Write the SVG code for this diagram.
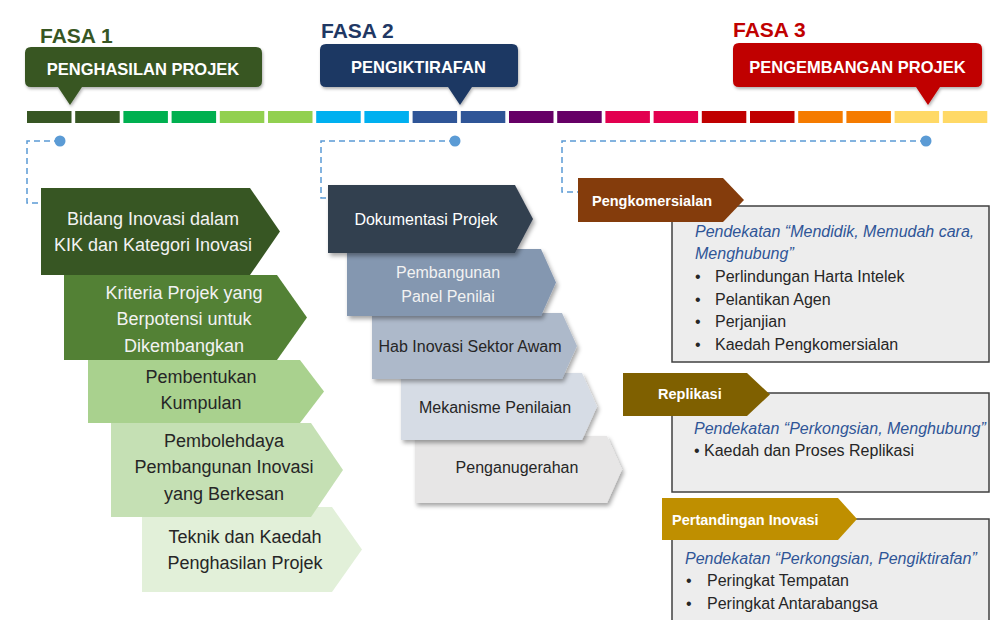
<svg xmlns="http://www.w3.org/2000/svg" width="991" height="620" viewBox="0 0 991 620">
<defs>
<filter id="sh" x="-10%" y="-10%" width="130%" height="140%">
<feDropShadow dx="2" dy="3" stdDeviation="2" flood-color="#000" flood-opacity="0.35"/>
</filter>
<filter id="sh2" x="-10%" y="-10%" width="130%" height="140%">
<feDropShadow dx="1" dy="2" stdDeviation="1.5" flood-color="#000" flood-opacity="0.3"/>
</filter>
</defs>
<style>
text{font-family:"Liberation Sans",Arial,sans-serif;}
.fasa{font-size:21px;font-weight:bold;}
.co{font-size:16.5px;font-weight:bold;fill:#fff;text-anchor:middle;}
.l{font-size:18px;text-anchor:middle;}
.m{font-size:16px;text-anchor:middle;}
.w{fill:#F2F2F2;}
.d{fill:#262626;}
.tag{font-size:14.5px;font-weight:bold;fill:#fff;}
.it{font-size:16px;font-style:italic;fill:#2F5597;}
.b{font-size:16px;fill:#262626;}
.box{fill:#EDEDED;stroke:#404040;stroke-width:1.5;}
.dash{fill:none;stroke:#5B9BD5;stroke-width:1.5;stroke-dasharray:6 4;}
.dot{fill:#5B9BD5;}
</style>
<rect width="991" height="620" fill="#fff"/>

<!-- timeline -->
<g id="timeline">
<rect x="27" y="111" width="44.5" height="12" fill="#375623"/>
<rect x="75.2" y="111" width="44.5" height="12" fill="#375623"/>
<rect x="123.4" y="111" width="44.5" height="12" fill="#00B050"/>
<rect x="171.6" y="111" width="44.5" height="12" fill="#00B050"/>
<rect x="219.8" y="111" width="44.5" height="12" fill="#92D050"/>
<rect x="268" y="111" width="44.5" height="12" fill="#92D050"/>
<rect x="316.2" y="111" width="44.5" height="12" fill="#00B0F0"/>
<rect x="364.4" y="111" width="44.5" height="12" fill="#00B0F0"/>
<rect x="412.6" y="111" width="44.5" height="12" fill="#2F5597"/>
<rect x="460.8" y="111" width="44.5" height="12" fill="#2F5597"/>
<rect x="509" y="111" width="44.5" height="12" fill="#660066"/>
<rect x="557.2" y="111" width="44.5" height="12" fill="#660066"/>
<rect x="605.4" y="111" width="44.5" height="12" fill="#E2004F"/>
<rect x="653.6" y="111" width="44.5" height="12" fill="#E2004F"/>
<rect x="701.8" y="111" width="44.5" height="12" fill="#C00000"/>
<rect x="750" y="111" width="44.5" height="12" fill="#C00000"/>
<rect x="798.2" y="111" width="44.5" height="12" fill="#F57B00"/>
<rect x="846.4" y="111" width="44.5" height="12" fill="#F57B00"/>
<rect x="894.6" y="111" width="44.5" height="12" fill="#FFD966"/>
<rect x="942.8" y="111" width="44.5" height="12" fill="#FFD966"/>
</g>

<!-- phases -->
<g id="fasa1">
<text class="fasa" x="40" y="43" fill="#375623">FASA 1</text>
<path d="M31,47 H256 Q262,47 262,53 V81 Q262,87 256,87 H82 L70,105 L58,87 H31 Q25,87 25,81 V53 Q25,47 31,47 Z" fill="#375623" filter="url(#sh2)"/>
<text class="co" x="143" y="75">PENGHASILAN PROJEK</text>
</g>
<g id="fasa2">
<text class="fasa" x="321" y="38" fill="#1F3864">FASA 2</text>
<path d="M326,44 H512 Q518,44 518,50 V81 Q518,87 512,87 H472 L460,105 L448,87 H326 Q320,87 320,81 V50 Q320,44 326,44 Z" fill="#1F3864" filter="url(#sh2)"/>
<text class="co" x="418.5" y="73">PENGIKTIRAFAN</text>
</g>
<g id="fasa3">
<text class="fasa" x="733" y="37" fill="#C00000">FASA 3</text>
<path d="M739,43 H976 Q982,43 982,49 V81 Q982,87 976,87 H940 L928,105 L916,87 H739 Q733,87 733,81 V49 Q733,43 739,43 Z" fill="#C00000" filter="url(#sh2)"/>
<text class="co" x="857.5" y="73">PENGEMBANGAN PROJEK</text>
</g>

<!-- connectors -->
<g id="connectors">
<path class="dash" d="M60,141 H27 V203 H40"/>
<path class="dash" d="M455,141 H321 V198 H328"/>
<path class="dash" d="M926,141 H562 V192 H578"/>
<circle class="dot" cx="60" cy="141" r="5.5"/>
<circle class="dot" cx="455" cy="141" r="5.5"/>
<circle class="dot" cx="926" cy="141" r="5.5"/>
</g>

<!-- left column -->
<g id="l5">
<polygon points="142,507 332,507 362,549.5 332,592 142,592" fill="#E2F0D9"/>
<text class="l d" x="245" y="543">Teknik dan Kaedah</text>
<text class="l d" x="245" y="569">Penghasilan Projek</text>
</g>
<g id="l4">
<polygon points="111,423 311,423 343,470 311,517 111,517" fill="#C5E0B4"/>
<text class="l d" x="224" y="447">Pembolehdaya</text>
<text class="l d" x="224" y="473">Pembangunan Inovasi</text>
<text class="l d" x="224" y="500">yang Berkesan</text>
</g>
<g id="l3">
<polygon points="88,360 300,360 324,391.5 300,423 88,423" fill="#A9D18E"/>
<text class="l d" x="201" y="383">Pembentukan</text>
<text class="l d" x="201" y="409">Kumpulan</text>
</g>
<g id="l2">
<polygon points="64,275 277,275 307,317.5 277,360 64,360" fill="#538135"/>
<text class="l w" x="184" y="299">Kriteria Projek yang</text>
<text class="l w" x="184" y="325">Berpotensi untuk</text>
<text class="l w" x="184" y="352">Dikembangkan</text>
</g>
<g id="l1">
<polygon points="41,188 250,188 280,231.5 250,275 41,275" fill="#375623"/>
<text class="l w" x="153" y="225">Bidang Inovasi dalam</text>
<text class="l w" x="153" y="251">KIK dan Kategori Inovasi</text>
</g>

<!-- middle column -->
<g id="m5">
<polygon points="415,436 607,436 622,469.5 607,503 415,503" fill="#E7E6E6" filter="url(#sh)"/>
<text class="m d" x="517" y="473">Penganugerahan</text>
</g>
<g id="m4">
<polygon points="401,373 582,373 597,406.5 582,440 401,440" fill="#D6DCE5" filter="url(#sh)"/>
<text class="m d" x="495" y="413">Mekanisme Penilaian</text>
</g>
<g id="m3">
<polygon points="372,313 562,313 577,346 562,379 372,379" fill="#ADB9CA" filter="url(#sh)"/>
<text class="m d" x="470" y="352">Hab Inovasi Sektor Awam</text>
</g>
<g id="m2">
<polygon points="347,249 541,249 556,282.5 541,316 347,316" fill="#8497B0" filter="url(#sh)"/>
<text class="m w" x="448" y="278">Pembangunan</text>
<text class="m w" x="448" y="302">Panel Penilai</text>
</g>
<g id="m1">
<polygon points="328,185 515,185 533,219 515,253 328,253" fill="#333F50" filter="url(#sh)"/>
<text class="m" x="426" y="225" fill="#fff">Dokumentasi Projek</text>
</g>

<!-- right column -->
<g id="r1">
<rect class="box" x="672" y="206" width="317" height="156"/>
<polygon points="578,178 723,178 744,200 723,222 578,222" fill="#843C0C"/>
<text class="tag" x="592" y="206">Pengkomersialan</text>
<text class="it" x="695" y="237">Pendekatan “Mendidik, Memudah cara,</text>
<text class="it" x="695" y="259">Menghubung”</text>
<text class="b" x="695" y="282">•</text><text class="b" x="715" y="282">Perlindungan Harta Intelek</text>
<text class="b" x="695" y="305">•</text><text class="b" x="715" y="305">Pelantikan Agen</text>
<text class="b" x="695" y="327">•</text><text class="b" x="715" y="327">Perjanjian</text>
<text class="b" x="695" y="350">•</text><text class="b" x="715" y="350">Kaedah Pengkomersialan</text>
</g>
<g id="r2">
<rect class="box" x="672" y="393" width="317" height="99"/>
<polygon points="623,373 747,373 770,394.5 747,416 623,416" fill="#7F6000"/>
<text class="tag" x="658" y="399">Replikasi</text>
<text class="it" x="694" y="434">Pendekatan “Perkongsian, Menghubung”</text>
<text class="b" x="694" y="456">• Kaedah dan Proses Replikasi</text>
</g>
<g id="r3">
<rect class="box" x="672" y="519" width="317" height="110"/>
<polygon points="662,498 838,498 857,519 838,540 662,540" fill="#BF8F00"/>
<text class="tag" x="672" y="525">Pertandingan Inovasi</text>
<text class="it" x="685" y="564">Pendekatan “Perkongsian, Pengiktirafan”</text>
<text class="b" x="686" y="586">•</text><text class="b" x="707" y="586">Peringkat Tempatan</text>
<text class="b" x="686" y="609">•</text><text class="b" x="707" y="609">Peringkat Antarabangsa</text>
</g>
</svg>
